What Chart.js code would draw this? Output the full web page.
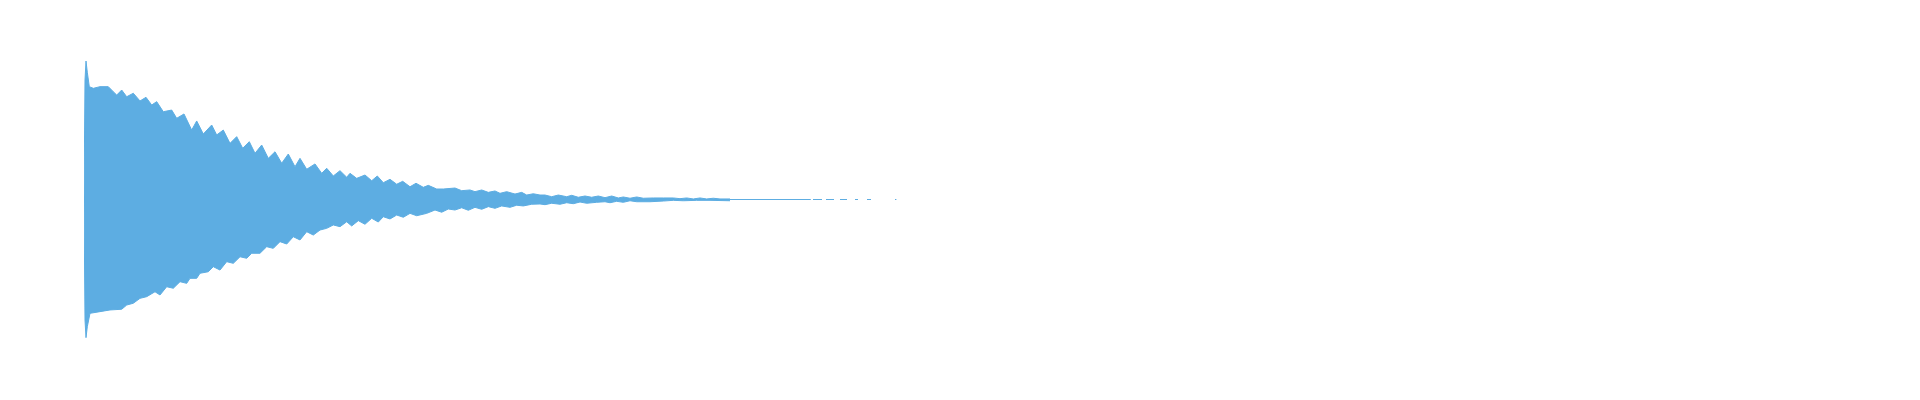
<!DOCTYPE html>
<html>
<head>
<meta charset="utf-8">
<script src="https://cdn.jsdelivr.net/npm/chart.js@4.4.1/dist/chart.umd.min.js"></script>
<style>
  html, body { margin: 0; padding: 0; background: #fff; }
  #wrap { position: relative; width: 1920px; height: 400px; }
</style>
</head>
<body>
<div id="wrap"><canvas id="wave"></canvas></div>
<script>
/* Forma de onda: envolvente superior / inferior (tiempo en s, amplitud normalizada) */
const TOP_T = [0, 0.005, 0.010, 0.0165, 0.0265, 0.0465, 0.08, 0.1215, 0.1465, 0.1635, 0.1885, 0.2135, 0.2465, 0.28, 0.31,
  0.3385, 0.3635, 0.3965, 0.4385, 0.4635, 0.5, 0.5385, 0.5635, 0.5965, 0.6385, 0.6635, 0.6965, 0.73, 0.7635, 0.7935,
  0.8265, 0.855, 0.8885, 0.9215, 0.955, 0.9885, 1.0215, 1.055, 1.08, 1.1135, 1.155, 1.1885, 1.2135, 1.2465, 1.28,
  1.3135, 1.33, 1.3635, 1.405, 1.4385, 1.4665, 1.4965, 1.53, 1.5635, 1.5935, 1.63, 1.66, 1.6965, 1.7215, 1.7635,
  1.7965, 1.855, 1.8885, 1.93, 1.955, 1.9885, 2.0215, 2.055, 2.08, 2.1135, 2.155, 2.1885, 2.2135, 2.2465, 2.28,
  2.305, 2.3385, 2.3715, 2.4135, 2.4385, 2.4715, 2.505, 2.5385, 2.5715, 2.605, 2.6385, 2.6715, 2.6965, 2.73, 2.7635,
  2.7965, 2.8465, 2.8965, 2.9465, 2.98, 3.0135, 3.0465, 3.08, 3.1135, 3.1465, 3.18, 3.23];
const TOP_V = [0, 0.854, 0.989, 0.909, 0.806, 0.794, 0.806, 0.806, 0.770, 0.746, 0.782, 0.734, 0.759, 0.704, 0.730,
  0.675, 0.699, 0.627, 0.639, 0.580, 0.611, 0.496, 0.561, 0.468, 0.532, 0.461, 0.496, 0.401, 0.449, 0.366,
  0.413, 0.330, 0.389, 0.294, 0.341, 0.259, 0.325, 0.234, 0.294, 0.216, 0.254, 0.187, 0.223, 0.168, 0.206,
  0.159, 0.187, 0.151, 0.175, 0.134, 0.168, 0.120, 0.144, 0.109, 0.130, 0.091, 0.116, 0.087, 0.101, 0.075,
  0.075, 0.082, 0.063, 0.068, 0.056, 0.068, 0.051, 0.061, 0.044, 0.056, 0.039, 0.051, 0.032, 0.041, 0.032,
  0.032, 0.020, 0.032, 0.020, 0.030, 0.016, 0.025, 0.016, 0.025, 0.013, 0.025, 0.011, 0.018, 0.009, 0.018,
  0.009, 0.011, 0.011, 0.011, 0.006, 0.011, 0.004, 0.011, 0.004, 0.009, 0.004, 0.004];

const BOT_T = [0, 0.005, 0.010, 0.0165, 0.03, 0.08, 0.13, 0.1885, 0.2135, 0.2465, 0.28, 0.3135, 0.355, 0.38, 0.4135,
  0.4465, 0.48, 0.5135, 0.53, 0.5635, 0.58, 0.6215, 0.6465, 0.68, 0.7135, 0.7465, 0.78, 0.8135, 0.8385, 0.88,
  0.9135, 0.9465, 0.98, 1.0135, 1.0465, 1.08, 1.1135, 1.1465, 1.18, 1.2135, 1.2465, 1.28, 1.3135, 1.3385, 1.3715,
  1.405, 1.4385, 1.4715, 1.4965, 1.53, 1.5635, 1.5965, 1.63, 1.6635, 1.7135, 1.755, 1.7885, 1.8215, 1.855, 1.8885,
  1.9215, 1.955, 1.9885, 2.0215, 2.055, 2.0885, 2.13, 2.1635, 2.1965, 2.2385, 2.28, 2.305, 2.3385, 2.38, 2.4135,
  2.4465, 2.48, 2.5135, 2.5635, 2.605, 2.63, 2.6635, 2.6965, 2.73, 2.7635, 2.83, 2.8965, 2.9465, 2.9965, 3.0635,
  3.13, 3.23];
const BOT_V = [0, -0.861, -0.987, -0.909, -0.813, -0.801, -0.789, -0.784, -0.754, -0.741, -0.706, -0.694, -0.659, -0.682, -0.623,
  -0.634, -0.587, -0.599, -0.563, -0.563, -0.527, -0.516, -0.480, -0.504, -0.444, -0.456, -0.409, -0.420, -0.384, -0.384,
  -0.337, -0.349, -0.301, -0.318, -0.266, -0.289, -0.230, -0.254, -0.218, -0.206, -0.182, -0.194, -0.159, -0.189, -0.151,
  -0.177, -0.134, -0.161, -0.123, -0.139, -0.111, -0.127, -0.099, -0.116, -0.099, -0.075, -0.091, -0.068, -0.075, -0.059,
  -0.077, -0.056, -0.070, -0.051, -0.063, -0.046, -0.056, -0.041, -0.046, -0.034, -0.032, -0.037, -0.027, -0.034, -0.023,
  -0.030, -0.018, -0.027, -0.020, -0.016, -0.023, -0.013, -0.020, -0.009, -0.016, -0.016, -0.011, -0.006, -0.009, -0.006,
  -0.006, -0.009];

// cola casi silenciosa: tramos visibles sobre el cero
const TAIL_START = [3.23, 3.645, 3.71, 3.78, 3.855, 3.915, 4.055];
const TAIL_END = [3.634, 3.69, 3.75, 3.815, 3.87, 3.935, 4.062];

const COLOR = '#5DADE2';

const toPts = (xs, ys) => xs.map((x, i) => ({ x, y: ys[i] }));

const tailPts = [];
TAIL_START.forEach((s, i) => {
  tailPts.push({ x: s, y: 0 }, { x: TAIL_END[i], y: 0 });
  if (i < TAIL_START.length - 1) tailPts.push({ x: (s + TAIL_START[i + 1]) / 2, y: null });
});

const line = (data, fill, width) => ({
  data, fill, borderColor: COLOR, backgroundColor: COLOR, borderWidth: width,
  pointRadius: 0, tension: 0, spanGaps: false, borderCapStyle: 'butt',
});

new Chart(document.getElementById('wave'), {
  type: 'line',
  data: {
    datasets: [
      line(toPts(TOP_T, TOP_V), { target: 1 }, 1),
      line(toPts(BOT_T, BOT_V), false, 1),
      line(tailPts, false, 1),
    ],
  },
  options: {
    responsive: true, maintainAspectRatio: false, animation: false,
    layout: { padding: { left: 84, right: 16, top: 0, bottom: 1 } },
    plugins: { legend: { display: false }, tooltip: { enabled: false } },
    scales: {
      x: { type: 'linear', display: false, min: 0, max: 9.1 },
      y: { display: false, min: -1.425, max: 1.425 },
    },
  },
});
</script>
</body>
</html>
